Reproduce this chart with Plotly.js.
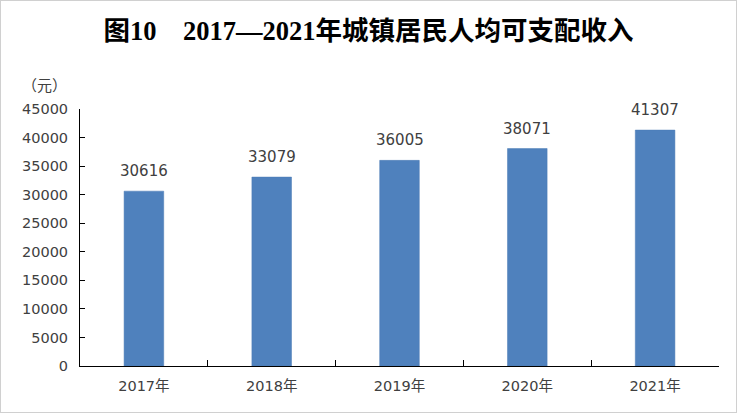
<!DOCTYPE html>
<html><head><meta charset="utf-8">
<script src="https://cdn.plot.ly/plotly-3.0.1.min.js"></script>
<style>
html,body{margin:0;padding:0;background:#fff;}
#wrap{position:relative;width:737px;height:413px;box-sizing:border-box;border:1px solid #d0d0d0;}
#chart{position:absolute;left:-1px;top:-1px;width:737px;height:413px;}
</style></head>
<body><div id="wrap"><div id="chart"></div></div>
<script>
const years = ["2017年","2018年","2019年","2020年","2021年"];
const income = [30616, 33079, 36005, 38071, 41307];
const yTicks = [0,5000,10000,15000,20000,25000,30000,35000,40000,45000];

const font = "DejaVu Sans, Noto Sans CJK SC, sans-serif";
const trace = {
  type: "bar", x: years, y: income,
  marker: {color: "#4f81bd", line: {color: "#4a7ab5", width: 0.5}},
  width: 0.31, hoverinfo: "skip"
};
const ann = years.map((c, i) => ({
  x: c, y: income[i], xref: "x", yref: "y", text: String(income[i]),
  showarrow: false, yanchor: "bottom", yshift: 9,
  font: {family: font, size: 15, color: "#404040"}
}));
ann.push({x: 0.0, y: 1.0, xref: "paper", yref: "paper", xshift: -36, yshift: 12,
  text: "（元）", showarrow: false, xanchor: "center", yanchor: "bottom",
  font: {family: "Noto Sans CJK SC, sans-serif", size: 15, color: "#404040"}});

const layout = {
  width: 737, height: 413,
  margin: {l: 80, r: 18, t: 109, b: 47},
  paper_bgcolor: "rgba(0,0,0,0)", plot_bgcolor: "#fff",
  showlegend: false,
  title: {text: "<b>图10　2017—2021年城镇居民人均可支配收入</b>",
    x: 0.5, xanchor: "center", y: 0.925, yanchor: "middle",
    font: {family: "Liberation Serif, Noto Sans CJK SC, serif", size: 26.5, color: "#000"}},
  xaxis: {type: "category", showline: true, linecolor: "#000", linewidth: 1.3,
    ticks: "inside", tickson: "boundaries", ticklen: 6, tickcolor: "#000",
    tickfont: {family: font, size: 14.5, color: "#404040"}, showgrid: false, zeroline: false,
    ticklabelstandoff: 6},
  yaxis: {range: [0, 45000], tickvals: yTicks, ticktext: yTicks.map(String),
    showline: true, linecolor: "#000", linewidth: 1, ticks: "inside", ticklen: 5, tickcolor: "#000",
    tickfont: {family: font, size: 14.5, color: "#404040"}, showgrid: false, zeroline: false,
    ticklabelstandoff: 8},
  annotations: ann
};
Plotly.newPlot("chart", [trace], layout, {staticPlot: true, displayModeBar: false});
</script></body></html>
